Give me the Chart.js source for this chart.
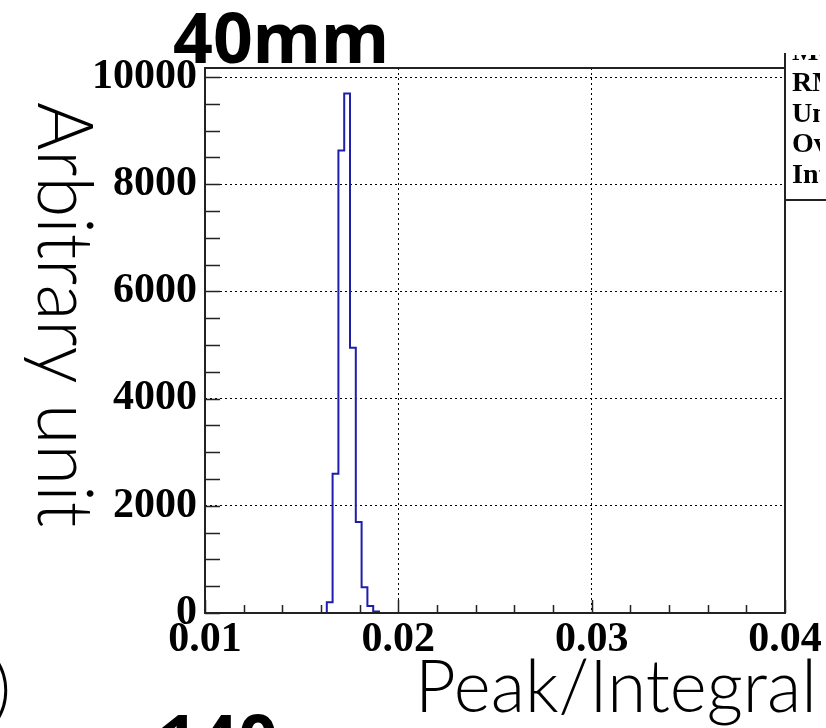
<!DOCTYPE html>
<html>
<head>
<meta charset="utf-8">
<script src="https://cdn.jsdelivr.net/npm/chart.js@4"></script>
<style>
  html, body { margin: 0; padding: 0; background: #fff; }
  canvas { display: block; }
</style>
</head>
<body>
<canvas id="histChart" width="826" height="728"></canvas>
<script>
// bin edges of the filled bins (last one is the upper edge of the final bin)
var binEdges = [0.0163, 0.0166, 0.0169, 0.0172, 0.0175, 0.0178, 0.0181, 0.0184, 0.0187, 0.0190];
var binCounts = [200, 2600, 8630, 9690, 4950, 1700, 480, 130, 30];

var xTicks = [0.01, 0.02, 0.03, 0.04];
var yTicks = [0, 2000, 4000, 6000, 8000, 10000];

var statLabels = ['Mean', 'RMS', 'Underflow', 'Overflow', 'Integral'];
var titleText = '40mm';
var xTitle = 'Peak/Integral';
var yTitle = 'Arbitrary unit';

var histChartElement = document.getElementById('histChart');
var HistChart;

histPoints = (edges, counts) => {
    var pts = [{x: edges[0], y: 0}];
    for (var i = 0; i < counts.length; i++) {
        pts.push({x: edges[i], y: counts[i]});
    }
    pts.push({x: edges[edges.length - 1], y: 0});
    return pts;
}

var tickFont = {family: 'Liberation Serif', weight: 'bold', size: 42};

// ROOT style frame, inner ticks, stats box and the loose texts
var rootStyle = {
    id: 'rootStyle',
    afterDraw: function(chart) {
        var ctx = chart.ctx;
        var a = chart.chartArea;
        var xs = chart.scales.x, ys = chart.scales.y;
        ctx.save();
        ctx.strokeStyle = '#222';
        ctx.lineWidth = 1.5;
        ctx.beginPath();
        for (var v = 0; v <= 10000; v += 500) {
            var py = Math.round(ys.getPixelForValue(v)) + 0.5;
            ctx.moveTo(a.left, py);
            ctx.lineTo(a.left + 15, py);
        }
        for (var i = 0; i <= 15; i++) {
            var px = Math.round(xs.getPixelForValue(0.01 + i * 0.002)) + 0.5;
            var len = (i % 5 == 0) ? 13 : 8;
            ctx.moveTo(px, a.bottom);
            ctx.lineTo(px, a.bottom - len);
        }
        ctx.stroke();

        ctx.lineWidth = 2;
        ctx.strokeRect(a.left, a.top, a.right - a.left, a.bottom - a.top);

        // stats box (cut off at the right)
        ctx.beginPath();
        ctx.moveTo(a.right, 53);
        ctx.lineTo(a.right, 200);
        ctx.lineTo(826, 200);
        ctx.stroke();
        ctx.save();
        ctx.beginPath();
        ctx.rect(a.right + 1, 55, 34, 144);
        ctx.clip();
        ctx.fillStyle = '#000';
        ctx.font = 'bold 28px "Liberation Serif"';
        ctx.textAlign = 'left';
        ctx.textBaseline = 'alphabetic';
        statLabels.forEach((s, k) => {
            ctx.fillText(s, 792, 183 - (4 - k) * 30.7);
        });
        ctx.restore();

        ctx.fillStyle = '#000';
        ctx.textBaseline = 'alphabetic';
        ctx.textAlign = 'left';
        ctx.font = 'bold 70px "Noto Sans"';
        ctx.fillText(titleText, 173, 63, 216);
        ctx.fillText('140', 158, 765);

        ctx.font = '300 72px Lato';
        ctx.textAlign = 'right';
        ctx.fillText(xTitle, 817, 712, 402);
        ctx.font = '300 70px Lato';
        ctx.fillText(')', 11, 713);

        ctx.save();
        ctx.translate(38, 102);
        ctx.rotate(Math.PI / 2);
        ctx.textAlign = 'left';
        ctx.font = '300 76px Lato';
        ctx.fillText(yTitle, 0, 0, 425);
        ctx.restore();

        ctx.restore();
    }
};

HistChart = new Chart(histChartElement, {
    type: 'line',
    data: {
        datasets: [{
            label: 'h',
            data: histPoints(binEdges, binCounts),
            stepped: 'before',
            borderColor: '#1e1eaa',
            borderWidth: 2,
            pointRadius: 0,
            fill: false
        }]
    },
    options: {
        responsive: false,
        animation: false,
        layout: {padding: {top: 68, right: 41, left: 0, bottom: 0}},
        plugins: {
            legend: {display: false},
            tooltip: {enabled: false}
        },
        scales: {
            x: {
                type: 'linear',
                min: 0.01,
                max: 0.04,
                afterFit: (s) => { s.height = 115; },
                afterBuildTicks: (s) => { s.ticks = xTicks.map(v => ({value: v})); },
                grid: {color: '#000', lineWidth: 1, drawTicks: false},
                border: {display: false, dash: [2, 3]},
                ticks: {
                    font: tickFont, color: '#000', padding: 2,
                    maxRotation: 0, autoSkip: false,
                    callback: (v) => v.toFixed(2)
                }
            },
            y: {
                type: 'linear',
                min: 0,
                max: 10168,
                afterFit: (s) => { s.width = 205; },
                afterBuildTicks: (s) => { s.ticks = yTicks.map(v => ({value: v})); },
                grid: {color: '#000', lineWidth: 1, drawTicks: false},
                border: {display: false, dash: [2, 3]},
                ticks: {
                    font: tickFont, color: '#000', padding: 8,
                    autoSkip: false,
                    callback: (v) => String(v)
                }
            }
        }
    },
    plugins: [rootStyle]
});
</script>
</body>
</html>
